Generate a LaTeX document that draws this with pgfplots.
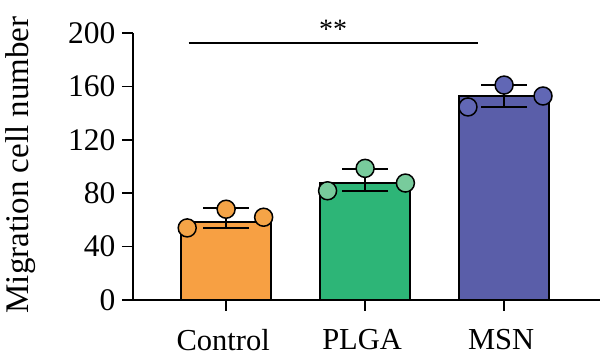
\documentclass[border=0pt]{standalone}
\usepackage{pgfplots}
\pgfplotsset{compat=1.18}
\usepackage{fontspec}
\setmainfont{Liberation Serif}
\definecolor{corange}{HTML}{F7A043}
\definecolor{cgreen}{HTML}{2DB577}
\definecolor{cblue}{HTML}{5A5EA9}
\definecolor{porange}{HTML}{F5A447}
\definecolor{pgreen}{HTML}{78CB9C}
\definecolor{pblue}{HTML}{6167B5}
\begin{document}
\begin{tikzpicture}
\useasboundingbox (0,0) rectangle (600pt,363pt);
\begin{axis}[
  at={(133pt,63pt)}, anchor=south west,
  scale only axis, width=467pt, height=267pt,
  xmin=-0.67, xmax=2.69, ymin=0, ymax=200,
  axis x line=bottom, axis y line=left,
  axis line style={-, line width=1.5pt},
  every tick/.style={black, line width=1.5pt},
  tick align=outside, major tick length=11pt,
  xtick={0,1,2}, xticklabels={Control,PLGA,MSN},
  ytick={0,40,80,120,160,200},
  /pgf/number format/assume math mode=true,
  xticklabel style={font=\fontsize{30.5}{34}\selectfont, yshift=-15pt, xshift=-3pt},
  yticklabel style={font=\fontsize{31.5}{34}\selectfont, xshift=-3pt},
  ylabel={Migration cell number},
  ylabel style={font=\fontsize{33}{36}\selectfont, at={(axis description cs:-0.24,0.506)}, anchor=center},
  clip=false,
]
% bars
\addplot[ybar, bar width=90pt, bar shift=0pt, fill=corange, draw=black, line width=1.5pt] coordinates {(0,58.6)};
\addplot[ybar, bar width=90pt, bar shift=0pt, fill=cgreen, draw=black, line width=1.5pt] coordinates {(1,87.6)};
\addplot[ybar, bar width=90pt, bar shift=0pt, fill=cblue, draw=black, line width=1.5pt] coordinates {(2,152.8)};
% error bars
\addplot[draw=none, mark=none, error bars/.cd, y dir=both, y explicit,
  error bar style={line width=1.8pt, black},
  error mark options={rotate=90, mark size=23pt, line width=1.8pt, black}]
  coordinates {(0,58.6) += (0,10.1) -= (0,4.9)
               (1,87.6) += (0,10.5) -= (0,5.8)
               (2,152.8) += (0,8.2) -= (0,8.0)};
% points
\addplot[only marks, mark=*, mark size=9pt, mark options={fill=porange, draw=black, line width=1.5pt}]
  coordinates {(-0.28,54) (0,68) (0.27,62)};
\addplot[only marks, mark=*, mark size=9pt, mark options={fill=pgreen, draw=black, line width=1.5pt}]
  coordinates {(0.73,81.8) (1,98.6) (1.29,87.6)};
\addplot[only marks, mark=*, mark size=9pt, mark options={fill=pblue, draw=black, line width=1.5pt}]
  coordinates {(1.74,144.6) (2,161) (2.28,152.8)};
% significance
\addplot[black, line width=1.8pt, mark=none] coordinates {(-0.27,192.5) (1.81,192.5)};
\node[font=\fontsize{28}{32}\selectfont] at (axis cs:0.77,203) {**};
\end{axis}
\end{tikzpicture}
\end{document}
